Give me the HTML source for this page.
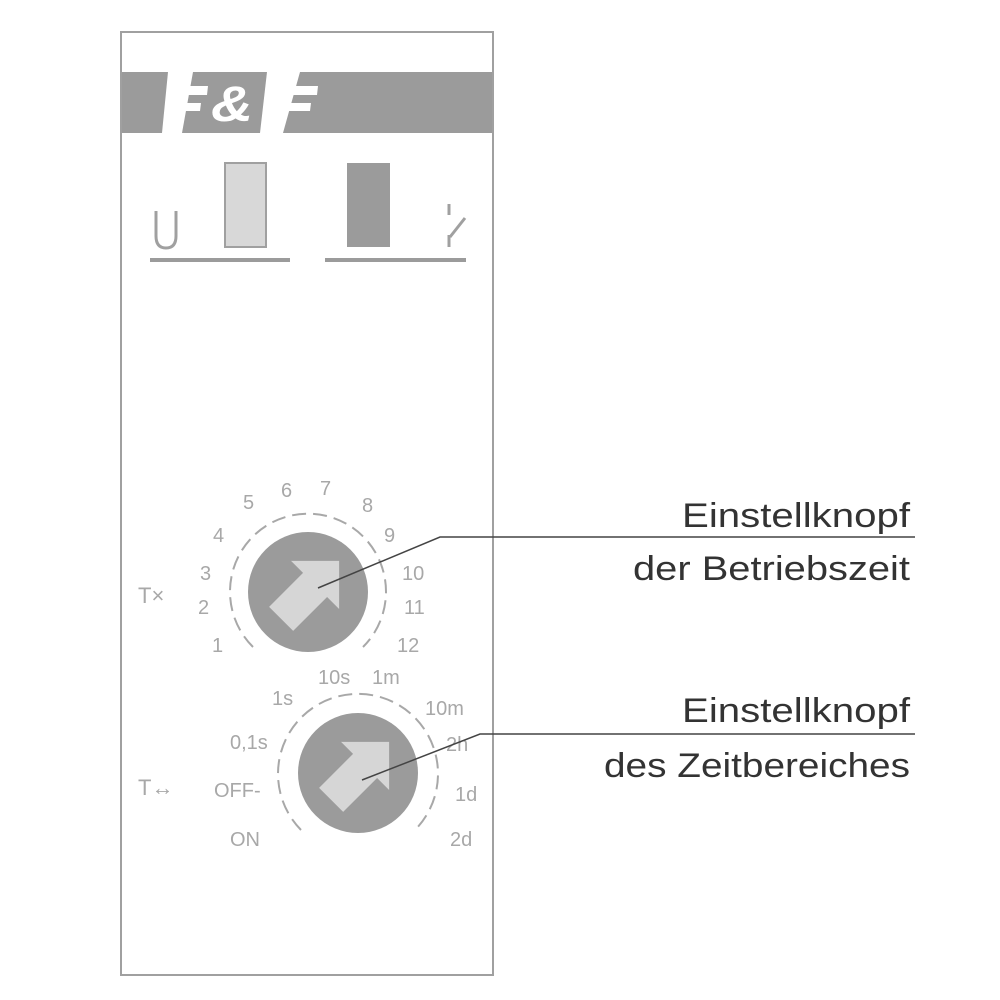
<!DOCTYPE html>
<html><head><meta charset="utf-8"><style>
html,body{margin:0;padding:0;background:#fff;}
svg{display:block;}
</style></head><body>
<svg width="1000" height="1000" viewBox="0 0 1000 1000" xmlns="http://www.w3.org/2000/svg">
<rect x="121" y="32" width="372" height="943" fill="#fff" stroke="#a0a0a0" stroke-width="2"/>
<!-- band pieces -->
<polygon points="122,72 168,72 162,133 122,133" fill="#9b9b9b"/>
<polygon points="193,72 267,72 260,133 182,133" fill="#9b9b9b"/>
<polygon points="300,72 492,72 492,133 283,133" fill="#9b9b9b"/>
<!-- F1 bars -->
<polygon points="168,86 208,86 207,95 167,95" fill="#fff"/>
<polygon points="166,103 201,103 200,111 165,111" fill="#fff"/>
<!-- & -->
<text x="211" y="121" font-family="Liberation Sans, sans-serif" font-weight="bold" font-style="italic" font-size="50" fill="#fff" textLength="42" lengthAdjust="spacingAndGlyphs">&amp;</text>
<!-- F2 bars -->
<polygon points="280,86 318,86 317,95 279,95" fill="#fff"/>
<polygon points="278,103 311,103 310,111 277,111" fill="#fff"/>
<!-- indicators -->
<path d="M156,211 V236 Q156,248 166,248 Q176,248 176,236 V211" fill="none" stroke="#a0a0a0" stroke-width="3"/>
<rect x="225" y="163" width="41" height="84" fill="#d8d8d8" stroke="#a0a0a0" stroke-width="2"/>
<rect x="347" y="163" width="43" height="84" fill="#9b9b9b"/>
<line x1="449" y1="204" x2="449" y2="215" stroke="#a0a0a0" stroke-width="3"/>
<line x1="465" y1="218" x2="450" y2="237" stroke="#a0a0a0" stroke-width="3"/>
<line x1="449" y1="235" x2="449" y2="247" stroke="#a0a0a0" stroke-width="3"/>
<rect x="150" y="258" width="140" height="4" fill="#9b9b9b"/>
<rect x="325" y="258" width="141" height="4" fill="#9b9b9b"/>

<g font-family="Liberation Sans, sans-serif" fill="#a8a8a8" font-size="20">
<path d="M253,647 A78,78 0 1 1 363,647" fill="none" stroke="#a8a8a8" stroke-width="2" stroke-dasharray="14,7"/>
<circle cx="308" cy="592" r="60" fill="#9b9b9b"/>
<g transform="translate(308,592) rotate(-45)">
<polygon points="44,0 10,-34 10,-17 -38,-17 -38,17 10,17 10,34" fill="#d6d6d6"/>
</g>
<text x="212" y="652">1</text><text x="198" y="614">2</text><text x="200" y="580">3</text>
<text x="213" y="542">4</text><text x="243" y="509">5</text><text x="281" y="497">6</text>
<text x="320" y="495">7</text><text x="362" y="512">8</text><text x="384" y="542">9</text>
<text x="402" y="580">10</text><text x="404" y="614">11</text><text x="397" y="652">12</text>
<text x="138" y="603" font-size="22">T×</text>
<path d="M301,830 A80,80 0 1 1 415,830" fill="none" stroke="#a8a8a8" stroke-width="2" stroke-dasharray="14,7"/>
<circle cx="358" cy="773" r="60" fill="#9b9b9b"/>
<g transform="translate(358,773) rotate(-45)">
<polygon points="44,0 10,-34 10,-17 -38,-17 -38,17 10,17 10,34" fill="#d6d6d6"/>
</g>
<text x="230" y="846">ON</text><text x="214" y="797">OFF-</text><text x="230" y="749">0,1s</text>
<text x="272" y="705">1s</text><text x="318" y="684">10s</text><text x="372" y="684">1m</text>
<text x="425" y="715">10m</text><text x="446" y="751">2h</text><text x="455" y="801">1d</text><text x="450" y="846">2d</text>
<text x="138" y="795" font-size="22">T↔</text>
</g>
<polyline points="318,588 440,537 915,537" fill="none" stroke="#444" stroke-width="1.5"/>
<polyline points="362,780 480,734 915,734" fill="none" stroke="#444" stroke-width="1.5"/>
<g font-family="Liberation Sans, sans-serif" fill="#333" font-size="34" text-anchor="end">
<text x="910" y="527" textLength="228" lengthAdjust="spacingAndGlyphs">Einstellknopf</text>
<text x="910" y="580" textLength="277" lengthAdjust="spacingAndGlyphs">der Betriebszeit</text>
<text x="910" y="722" textLength="228" lengthAdjust="spacingAndGlyphs">Einstellknopf</text>
<text x="910" y="777" textLength="306" lengthAdjust="spacingAndGlyphs">des Zeitbereiches</text>
</g>
</svg>
</body></html>
